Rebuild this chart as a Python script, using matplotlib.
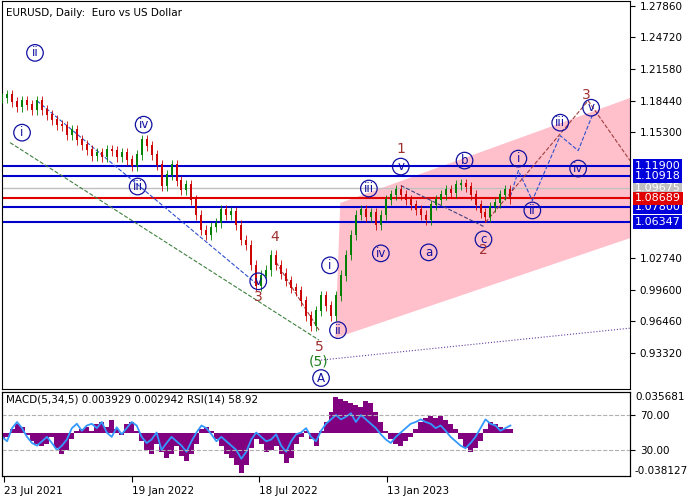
import matplotlib

matplotlib.use("Agg")

import matplotlib.pyplot as plt
import numpy as np
from matplotlib.patches import Polygon

# weekly closes, one value every 5 px of the chart
closes = [
    1.187, 1.19, 1.183, 1.178, 1.184, 1.180, 1.175, 1.184, 1.175, 1.17, 1.165, 1.16, 1.159,
    1.15, 1.155, 1.145, 1.14, 1.135, 1.129, 1.132, 1.128, 1.135, 1.134, 1.128, 1.132, 1.125,
    1.119, 1.13, 1.145, 1.139, 1.13, 1.12, 1.099, 1.11, 1.12, 1.104, 1.095, 1.1, 1.085,
    1.07, 1.055, 1.05, 1.058, 1.062, 1.075, 1.07, 1.073, 1.06, 1.045, 1.04, 1.02, 1.0,
    1.01, 1.015, 1.03, 1.02, 1.012, 1.005, 0.998, 0.995, 0.985, 0.97, 0.96, 0.975, 0.99,
    0.98, 0.97, 0.99, 1.01, 1.03, 1.05, 1.07, 1.075, 1.068, 1.072, 1.06, 1.07, 1.085, 1.09,
    1.095, 1.09, 1.085, 1.08, 1.075, 1.07, 1.065, 1.08, 1.085, 1.09, 1.095, 1.092, 1.1,
    1.101, 1.098, 1.09, 1.08, 1.072, 1.068, 1.078, 1.082, 1.09, 1.095, 1.086,
]
macd_hist = [
    -0.006, -0.004, 0.004, 0.008, 0.006, -0.002, -0.008, -0.01, -0.012, -0.01, -0.004, -0.014,
    -0.02, -0.016, -0.006, 0.002, 0.004, 0.006, 0.002, 0.008, 0.01, 0.006, 0.012, 0.004,
    -0.002, 0.008, 0.01, 0.002, -0.008, -0.016, -0.02, -0.01, -0.018, -0.024, -0.02, -0.012,
    -0.022, -0.026, -0.02, -0.01, 0.004, 0.006, 0.002, -0.006, -0.012, -0.02, -0.024, -0.03,
    -0.038, -0.03, -0.014, -0.006, -0.01, -0.018, -0.016, -0.012, -0.02, -0.028, -0.024, -0.01,
    -0.004, 0.002, -0.006, -0.012, 0.002, 0.01, 0.02, 0.034, 0.032, 0.03, 0.028, 0.026,
    0.024, 0.03, 0.028, 0.02, 0.01, 0.002, -0.006, -0.01, -0.012, -0.008, -0.004, 0.004,
    0.01, 0.014, 0.016, 0.014, 0.016, 0.012, 0.008, 0.004, -0.006, -0.014, -0.018, -0.014,
    -0.008, 0.004, 0.01, 0.008, 0.006, 0.004, 0.004,
]
rsi = [
    45, 40, 55, 62, 55, 45, 38, 35, 40, 45, 38, 30, 35, 42, 55, 60, 52, 58, 60, 55,
    62, 50, 45, 56, 48, 55, 62, 58, 45, 38, 42, 50, 30, 38, 45, 40, 35, 28, 40, 50,
    58, 55, 48, 40, 45, 40, 35, 30, 20, 28, 42, 50, 45, 40, 42, 48, 35, 28, 40, 48,
    50, 55, 45, 40, 52, 60, 65, 70, 65, 68, 72, 62, 70, 65, 60, 55, 48, 42, 38, 45,
    50, 55, 60, 62, 65, 62, 60, 55, 58, 52, 45, 40, 35, 32, 38, 45, 55, 65, 60, 58,
    52, 55, 58,
]
date_labels = ["23 Jul 2021", "19 Jan 2022", "18 Jul 2022", "13 Jan 2023"]
date_pos = [2, 130, 258, 386]
price_ticks = [1.27860, 1.24720, 1.21580, 1.18440, 1.15300, 1.02740, 0.99600, 0.96460, 0.93320]
levels_blue = [1.11900, 1.10918, 1.07800, 1.06347]
level_red = 1.08689
level_gray = 1.09675


def p(y):
    # chart pixel row -> price
    return 1.2786 - (y - 5) * 0.000994


# wave labels: (x px, y px, text, style)
waves = [
    (20, 132, "i", "c"), (33, 52, "ii", "c"), (136, 186, "iii", "c"), (142, 124, "iv", "c"),
    (257, 281, "v", "c"), (257, 297, "3", "b"), (274, 237, "4", "b"), (318, 347, "5", "b"),
    (318, 361, "(5)", "g"), (320, 378, "A", "c"), (329, 265, "i", "c"), (337, 330, "ii", "c"),
    (368, 188, "iii", "c"), (380, 253, "iv", "c"), (400, 166, "v", "c"), (400, 148, "1", "b"),
    (428, 252, "a", "c"), (464, 160, "b", "c"), (483, 239, "c", "c"), (483, 250, "2", "b"),
    (518, 158, "i", "c"), (532, 210, "ii", "c"), (560, 122, "iii", "c"), (578, 168, "iv", "c"),
    (591, 107, "v", "c"), (586, 94, "3", "b"),
]

fig = plt.figure(figsize=(7, 5), dpi=100)
fig.patch.set_facecolor("white")
ax = fig.add_axes([0.003, 0.222, 0.897, 0.776])
ax2 = fig.add_axes([0.003, 0.048, 0.897, 0.168])

x = np.arange(len(closes)) * 5
ax.set_xlim(0, 630)
ax.set_ylim(p(389), p(0))

chan = Polygon([(340, p(203)), (630, p(98)), (630, p(237)), (335, p(337))],
               closed=True, color="#ffc0cb", zorder=0)
ax.add_patch(chan)

for lv in levels_blue:
    ax.axhline(lv, color="#0000cc", lw=1.5, zorder=2)
ax.axhline(level_red, color="#e00000", lw=1.5, zorder=2)
ax.axhline(level_gray, color="#c0c0c0", lw=1, zorder=2)

prev = closes[0]
for xi, c in zip(x, closes):
    col = "#008000" if c >= prev else "#cc0000"
    lo, hi = min(prev, c), max(prev, c)
    ax.vlines(xi, lo - 0.005, hi + 0.005, color=col, lw=0.6, zorder=3)
    ax.vlines(xi, lo, hi + 0.0008, color=col, lw=1.4, zorder=3)
    prev = c

dash = dict(lw=0.8, ls="--", zorder=2)
ax.plot([35, 257], [p(100), p(285)], color="#3050d0", **dash)
ax.plot([8, 318], [p(142), p(340)], color="#408040", **dash)
ax.plot([275, 318], [p(262), p(330)], color="#a04040", **dash)
ax.plot([400, 483], [p(185), p(226)], color="#404080", **dash)
ax.plot([510, 518, 532, 560, 578, 592], [p(196), p(170), p(200), p(135), p(150), p(115)],
        color="#3050d0", **dash)
ax.plot([485, 588, 630], [p(222), p(100), p(160)], color="#a04040", **dash)
ax.plot([320, 630], [p(360), p(328)], color="#6040a0", lw=0.8, ls=":", zorder=2)

for wx, wy, t, st in waves:
    if st == "c":
        ax.text(wx, p(wy), t, ha="center", va="center", color="#1010a0", fontsize=8.5,
                bbox=dict(boxstyle="circle,pad=0.15", fc="none", ec="#1010a0", lw=0.9), zorder=5)
    elif st == "b":
        ax.text(wx, p(wy), t, ha="center", va="center", color="#a03030", fontsize=10, zorder=5)
    else:
        ax.text(wx, p(wy), t, ha="center", va="center", color="#208020", fontsize=10, zorder=5)

ax.text(4, p(12), "EURUSD, Daily:  Euro vs US Dollar", fontsize=7.5, va="center")
ax.yaxis.tick_right()
ax.set_yticks(price_ticks)
ax.set_yticklabels([f"{t:.5f}" for t in price_ticks], fontsize=7.5)
ax.set_xticks([])


def box(price, text, fc, tc="white"):
    yf = 0.222 + (price - p(389)) / (p(0) - p(389)) * 0.776
    fig.text(0.907, yf, text, fontsize=8, color=tc, va="center", ha="left",
             bbox=dict(boxstyle="square,pad=0.15", fc=fc, ec="none"))


box(level_gray, "1.09675", "#c0c0c0")
for lv in levels_blue:
    box(lv, f"{lv:.5f}", "#0000dd")
box(level_red, "1.08689", "#e00000")

# indicator panel
ax2.set_xlim(0, 630)
ax2.set_ylim(0.3, 96.3)
tw = ax2.twinx()
tw.set_ylim(-0.0405, 0.0385)
tw.bar(x, macd_hist, width=5, color="#800080", zorder=1)
ax2.set_zorder(tw.get_zorder() + 1)
ax2.patch.set_visible(False)
ax2.plot(x, rsi, color="#3399ff", lw=1.3)
for lv in (70, 30):
    ax2.axhline(lv, color="#b0b0b0", lw=0.8, ls="--")
ax2.yaxis.tick_right()
ax2.set_yticks([70, 30])
ax2.set_yticklabels(["70.00", "30.00"], fontsize=7.5)
tw.set_yticks([])
ax2.text(4, 88, "MACD(5,34,5) 0.003929 0.002942 RSI(14) 58.92", fontsize=7.5, va="center")
fig.text(0.907, 0.207, "0.035681", fontsize=7.5, va="center")
fig.text(0.907, 0.058, "-0.038127", fontsize=7.5, va="center")
ax2.set_xticks(date_pos)
ax2.set_xticklabels(date_labels, fontsize=7.5, ha="left")
ax2.tick_params(axis="x", length=4)

fig.savefig("out.png", dpi=100)
